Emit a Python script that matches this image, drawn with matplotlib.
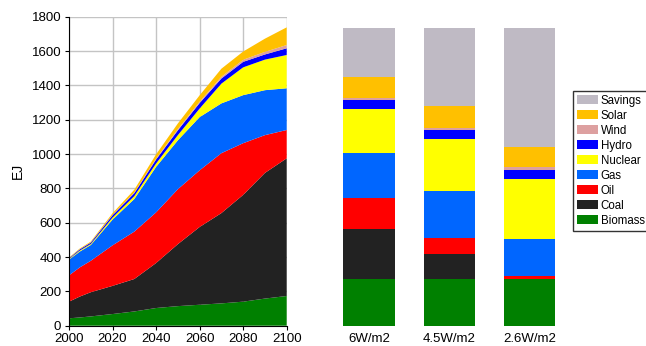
import numpy as np
import matplotlib
matplotlib.use("Agg")
import matplotlib.pyplot as plt
from matplotlib.patches import Patch

plt.rcParams['font.family'] = ['Liberation Sans', 'DejaVu Sans']

# Primary energy by source (EJ), baseline scenario
years = [2000, 2005, 2010, 2020, 2030, 2040, 2050, 2060, 2070, 2080, 2090, 2100]
biomass = [43, 48, 54, 68, 83, 103, 114, 122, 130, 140, 158, 173]
coal = [97, 122, 141, 164, 189, 262, 361, 453, 526, 622, 732, 802]
oil = [153, 170, 183, 236, 276, 295, 320, 330, 349, 301, 220, 165]
gas = [92, 92, 92, 150, 190, 265, 285, 310, 290, 280, 262, 243]
nuclear = [4, 6, 6, 12, 17, 20, 30, 50, 115, 162, 178, 194]
hydro = [4, 7, 8, 13, 17, 23, 28, 32, 30, 32, 30, 39]
wind = [1, 1, 1, 3, 4, 5, 7, 8, 10, 12, 15, 19]
solar = [3, 4, 5, 9, 16, 25, 33, 37, 47, 48, 77, 103]

# 2100 mix under the three forcing targets
scenarios = ['6W/m2', '4.5W/m2', '2.6W/m2']
biomass_2100 = [270, 270, 270]
coal_2100 = [292, 148, 3]
oil_2100 = [184, 93, 17]
gas_2100 = [258, 272, 213]
nuclear_2100 = [258, 303, 353]
hydro_2100 = [53, 52, 51]
wind_2100 = [13, 15, 19]
solar_2100 = [119, 127, 117]
savings_2100 = [289, 456, 693]

names = ['Biomass', 'Coal', 'Oil', 'Gas', 'Nuclear', 'Hydro', 'Wind', 'Solar', 'Savings']
colors = ['#008000', '#222222', '#ff0000', '#0066ff', '#ffff00', '#0000ff',
          '#dda0a0', '#ffc000', '#bfbac4']

fig = plt.figure(figsize=(6.46, 3.46), dpi=100)

# left: stacked area through time
ax = fig.add_axes([69 / 646, 20.3 / 346, 217.7 / 646, 309 / 346])
ax.stackplot(years, biomass, coal, oil, gas, nuclear, hydro, wind, solar,
             colors=colors[:8], linewidth=0, zorder=2)
ax.set_xlim(2000, 2100)
ax.set_ylim(0, 1800)
ax.set_xticks(range(2000, 2101, 20))
ax.set_yticks(range(0, 1801, 200))
ax.grid(True, color='#c4c4c4', linewidth=1, zorder=0)
ax.set_axisbelow(True)
for s in ['top', 'right']:
    ax.spines[s].set_visible(False)
ax.tick_params(labelsize=9.5, length=3, width=0.8, colors='black', pad=2.5)
ax.set_ylabel('EJ', fontsize=10, labelpad=5)

# right: stacked bars for 2100
bx = fig.add_axes([329 / 646, 20.3 / 346, 240.6 / 646, 309 / 346])
bx.set_xlim(-0.5, 2.5)
bx.set_ylim(0, 1800)
x = np.arange(len(scenarios))
bottom = np.zeros(len(scenarios))
bar_series = [biomass_2100, coal_2100, oil_2100, gas_2100, nuclear_2100,
              hydro_2100, wind_2100, solar_2100, savings_2100]
for vals, c in zip(bar_series, colors):
    bx.bar(x, vals, width=0.64, bottom=bottom, color=c, linewidth=0)
    bottom += np.array(vals)
bx.set_xticks(x)
bx.set_xticklabels(scenarios)
bx.set_yticks([])
bx.tick_params(axis='x', length=0, pad=5.5, labelsize=9.5)
for s in bx.spines.values():
    s.set_visible(False)

# legend box runs off the right edge of the figure
handles = [Patch(facecolor=c, edgecolor='none', label=n)
           for n, c in zip(names[::-1], colors[::-1])]
fig.legend(handles=handles, loc='upper left',
           bbox_to_anchor=(573 / 646, 1 - 90.7 / 346),
           fontsize=8.3, frameon=True, fancybox=False, edgecolor='black',
           handlelength=1.85, handleheight=0.78, handletextpad=0.2,
           labelspacing=0.26, borderpad=0.35, borderaxespad=0)

fig.savefig('out.png', dpi=100)
